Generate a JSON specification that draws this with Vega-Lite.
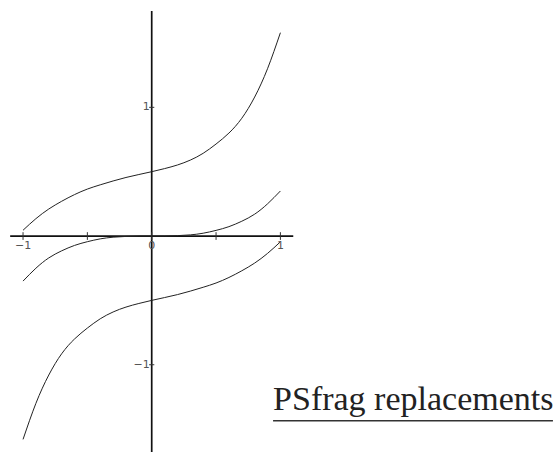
{
  "$schema": "https://vega.github.io/schema/vega-lite/v6.json",
  "width": 555,
  "height": 452,
  "autosize": {"type": "none"},
  "padding": 0,
  "background": "white",
  "config": {"view": {"stroke": null}},
  "datasets": {
    "curves": [
      {"series": "upper", "x": -1.0, "y": 0.045},
      {"series": "upper", "x": -0.9, "y": 0.135},
      {"series": "upper", "x": -0.8, "y": 0.21},
      {"series": "upper", "x": -0.7, "y": 0.27},
      {"series": "upper", "x": -0.6, "y": 0.322},
      {"series": "upper", "x": -0.5, "y": 0.365},
      {"series": "upper", "x": -0.4, "y": 0.398},
      {"series": "upper", "x": -0.3, "y": 0.428},
      {"series": "upper", "x": -0.2, "y": 0.455},
      {"series": "upper", "x": -0.1, "y": 0.478},
      {"series": "upper", "x": 0.0, "y": 0.5},
      {"series": "upper", "x": 0.1, "y": 0.524},
      {"series": "upper", "x": 0.2, "y": 0.552},
      {"series": "upper", "x": 0.3, "y": 0.59},
      {"series": "upper", "x": 0.4, "y": 0.643},
      {"series": "upper", "x": 0.5, "y": 0.715},
      {"series": "upper", "x": 0.6, "y": 0.8},
      {"series": "upper", "x": 0.7, "y": 0.915},
      {"series": "upper", "x": 0.8, "y": 1.08},
      {"series": "upper", "x": 0.9, "y": 1.3},
      {"series": "upper", "x": 1.0, "y": 1.58},
      {"series": "middle", "x": -1.0, "y": -0.35},
      {"series": "middle", "x": -0.9, "y": -0.25},
      {"series": "middle", "x": -0.8, "y": -0.17},
      {"series": "middle", "x": -0.7, "y": -0.115},
      {"series": "middle", "x": -0.6, "y": -0.073},
      {"series": "middle", "x": -0.5, "y": -0.044},
      {"series": "middle", "x": -0.4, "y": -0.022},
      {"series": "middle", "x": -0.3, "y": -0.009},
      {"series": "middle", "x": -0.2, "y": -0.003},
      {"series": "middle", "x": -0.1, "y": 0.0},
      {"series": "middle", "x": 0.0, "y": 0.0},
      {"series": "middle", "x": 0.1, "y": 0.0},
      {"series": "middle", "x": 0.2, "y": 0.003},
      {"series": "middle", "x": 0.3, "y": 0.009},
      {"series": "middle", "x": 0.4, "y": 0.022},
      {"series": "middle", "x": 0.5, "y": 0.044},
      {"series": "middle", "x": 0.6, "y": 0.073},
      {"series": "middle", "x": 0.7, "y": 0.115},
      {"series": "middle", "x": 0.8, "y": 0.17},
      {"series": "middle", "x": 0.9, "y": 0.25},
      {"series": "middle", "x": 1.0, "y": 0.35},
      {"series": "lower", "x": -1.0, "y": -1.58},
      {"series": "lower", "x": -0.9, "y": -1.3},
      {"series": "lower", "x": -0.8, "y": -1.08},
      {"series": "lower", "x": -0.7, "y": -0.915},
      {"series": "lower", "x": -0.6, "y": -0.8},
      {"series": "lower", "x": -0.5, "y": -0.715},
      {"series": "lower", "x": -0.4, "y": -0.643},
      {"series": "lower", "x": -0.3, "y": -0.59},
      {"series": "lower", "x": -0.2, "y": -0.552},
      {"series": "lower", "x": -0.1, "y": -0.524},
      {"series": "lower", "x": 0.0, "y": -0.5},
      {"series": "lower", "x": 0.1, "y": -0.478},
      {"series": "lower", "x": 0.2, "y": -0.455},
      {"series": "lower", "x": 0.3, "y": -0.428},
      {"series": "lower", "x": 0.4, "y": -0.398},
      {"series": "lower", "x": 0.5, "y": -0.365},
      {"series": "lower", "x": 0.6, "y": -0.322},
      {"series": "lower", "x": 0.7, "y": -0.27},
      {"series": "lower", "x": 0.8, "y": -0.21},
      {"series": "lower", "x": 0.9, "y": -0.135},
      {"series": "lower", "x": 1.0, "y": -0.045}
    ],
    "axes": [
      {"axis": "x", "x1": -1.1, "y1": 0, "x2": 1.1, "y2": 0},
      {"axis": "y", "x1": 0, "y1": -1.69, "x2": 0, "y2": 1.748}
    ],
    "xticks": [
      {"v": -1, "label": "−1"},
      {"v": -0.5, "label": ""},
      {"v": 0, "label": "0"},
      {"v": 0.5, "label": ""},
      {"v": 1, "label": "1"}
    ],
    "yticks": [
      {"v": 1, "label": "1"},
      {"v": -1, "label": "−1"}
    ],
    "caption": [
      {"x": 0.943, "x2": 3.118, "y": -1.352, "yline": -1.435, "text": "PSfrag replacements"}
    ]
  },
  "encoding": {
    "x": {"type": "quantitative", "scale": {"domain": [-1.179, 3.134], "nice": false, "zero": false}, "axis": null},
    "y": {"type": "quantitative", "scale": {"domain": [-1.678, 1.834], "nice": false, "zero": false}, "axis": null}
  },
  "layer": [
    {
      "data": {"name": "axes"},
      "mark": {"type": "rule", "color": "#111", "strokeWidth": 1.7},
      "encoding": {
        "x": {"field": "x1", "type": "quantitative"},
        "y": {"field": "y1", "type": "quantitative"},
        "x2": {"field": "x2"},
        "y2": {"field": "y2"}
      }
    },
    {
      "data": {"name": "xticks"},
      "mark": {"type": "rule", "color": "#333", "strokeWidth": 1},
      "encoding": {
        "x": {"field": "v", "type": "quantitative"},
        "y": {"datum": -0.03, "type": "quantitative"},
        "y2": {"datum": 0.03}
      }
    },
    {
      "data": {"name": "yticks"},
      "mark": {"type": "rule", "color": "#333", "strokeWidth": 1},
      "encoding": {
        "y": {"field": "v", "type": "quantitative"},
        "x": {"datum": -0.02, "type": "quantitative"},
        "x2": {"datum": 0.02}
      }
    },
    {
      "data": {"name": "curves"},
      "mark": {"type": "line", "color": "#222", "strokeWidth": 1, "interpolate": "natural"},
      "encoding": {
        "x": {"field": "x", "type": "quantitative"},
        "y": {"field": "y", "type": "quantitative"},
        "detail": {"field": "series"}
      }
    },
    {
      "data": {"name": "xticks"},
      "mark": {"type": "text", "font": "DejaVu Sans", "fontSize": 11, "color": "#555", "align": "center", "baseline": "top", "dy": 4},
      "encoding": {
        "x": {"field": "v", "type": "quantitative"},
        "y": {"datum": 0, "type": "quantitative"},
        "text": {"field": "label"}
      }
    },
    {
      "data": {"name": "yticks"},
      "mark": {"type": "text", "font": "DejaVu Sans", "fontSize": 11, "color": "#555", "align": "right", "baseline": "middle", "dx": -2},
      "encoding": {
        "y": {"field": "v", "type": "quantitative"},
        "x": {"datum": 0, "type": "quantitative"},
        "text": {"field": "label"}
      }
    },
    {
      "data": {"name": "caption"},
      "mark": {"type": "text", "font": "Liberation Serif", "fontSize": 34, "color": "#222", "align": "left", "baseline": "alphabetic"},
      "encoding": {
        "x": {"field": "x", "type": "quantitative"},
        "y": {"field": "y", "type": "quantitative"},
        "text": {"field": "text"}
      }
    },
    {
      "data": {"name": "caption"},
      "mark": {"type": "rule", "color": "#333", "strokeWidth": 1.3},
      "encoding": {
        "x": {"field": "x", "type": "quantitative"},
        "x2": {"field": "x2"},
        "y": {"field": "yline", "type": "quantitative"}
      }
    }
  ]
}
